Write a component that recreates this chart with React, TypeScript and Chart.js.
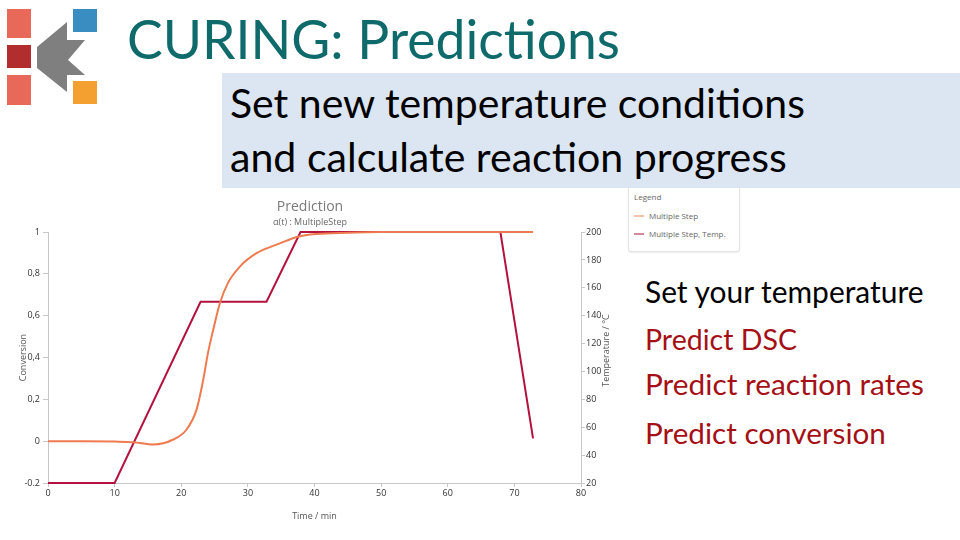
import React, { useEffect, useRef } from "react";
import { Chart, registerables } from "chart.js";

Chart.register(...registerables);

// ---------- data ----------
const timeConversion = [0, 5, 10, 12.8, 15.8, 18.8, 20.8, 22.3, 23.3, 24.0, 24.8, 25.8, 27.0, 28.8, 31.3, 34.8, 37.5, 40.3, 45, 50, 60, 72.8];
const conversionValues = [0, 0, -0.002, -0.005, -0.016, 0.008, 0.056, 0.151, 0.294, 0.42, 0.533, 0.66, 0.756, 0.835, 0.899, 0.946, 0.978, 0.991, 0.997, 1.0, 1.0, 1.0];
const timeTemperature = [0, 10, 22.9, 32.8, 37.9, 67.9, 72.8];
const temperatureValues = [20, 20, 150, 150, 200, 200, 52];
const conversionTickLabels = ["-0.2", "0", "0,2", "0,4", "0,6", "0,8", "1"];
const seriesNames = ["Multiple Step", "Multiple Step, Temp."];
const seriesColors = ["#EE7A50", "#B3123F"];
const legendColors = ["#F3C2A8", "#D48A9C"];
const temperatureAxisTitle = "Temperature / °C";

const SLIDE_FONT = "Lato, 'Open Sans', sans-serif";
const CHART_FONT = "'Open Sans', sans-serif";

function fitSize(text: string, width: number, family: string) {
  const c = document.createElement("canvas");
  const ctx = c.getContext("2d")!;
  ctx.font = `100px ${family}`;
  const w = ctx.measureText(text).width;
  return (100 * width) / w;
}

function SlideText(props: { text: string; x: number; cy: number; width: number; color: string }) {
  const fs = fitSize(props.text, props.width, SLIDE_FONT);
  return (
    <div
      style={{
        position: "absolute",
        left: props.x,
        top: props.cy - 0.528 * fs,
        fontFamily: SLIDE_FONT,
        fontSize: fs,
        lineHeight: 1,
        color: props.color,
        whiteSpace: "nowrap",
        zIndex: 3,
      }}
    >
      {props.text}
    </div>
  );
}

const rightTitlePlugin = {
  id: "rightTitle",
  afterDraw(chart: any) {
    const { ctx, chartArea } = chart;
    ctx.save();
    ctx.translate(606, (chartArea.top + chartArea.bottom) / 2 - 7);
    ctx.rotate(-Math.PI / 2);
    ctx.textAlign = "center";
    ctx.textBaseline = "middle";
    ctx.font = `9px ${CHART_FONT}`;
    ctx.fillStyle = "#555";
    ctx.fillText(temperatureAxisTitle, 0, 0);
    ctx.restore();
  },
};

function PredictionChart() {
  const ref = useRef<HTMLCanvasElement | null>(null);
  useEffect(() => {
    if (!ref.current) return;
    const tickFont = { family: CHART_FONT, size: 9 };
    const titleFont = { family: CHART_FONT, size: 9 };
    const chart = new Chart(ref.current, {
      type: "line",
      data: {
        datasets: [
          {
            label: seriesNames[0],
            data: timeConversion.map((t, i) => ({ x: t, y: conversionValues[i] })),
            borderColor: seriesColors[0],
            borderWidth: 2,
            pointRadius: 0,
            cubicInterpolationMode: "monotone",
            yAxisID: "y",
            clip: 4,
          },
          {
            label: seriesNames[1],
            data: timeTemperature.map((t, i) => ({ x: t, y: temperatureValues[i] })),
            borderColor: seriesColors[1],
            borderWidth: 2,
            pointRadius: 0,
            tension: 0,
            yAxisID: "y1",
            clip: 4,
          },
        ],
      },
      options: {
        responsive: false,
        animation: false,
        layout: { padding: 0 },
        plugins: {
          legend: { display: false },
          tooltip: { enabled: false },
          title: {
            display: true,
            text: "Prediction",
            color: "#7a7a7a",
            font: { family: CHART_FONT, size: 14, weight: "normal" },
            padding: { top: 9, bottom: 1 },
          },
          subtitle: {
            display: true,
            text: "α(t) : MultipleStep",
            color: "#666",
            font: { family: CHART_FONT, size: 9 },
            padding: { top: 0, bottom: 4.5 },
          },
        },
        scales: {
          x: {
            type: "linear",
            min: 0,
            max: 80,
            ticks: { stepSize: 10, color: "#333", font: tickFont, padding: 1, maxRotation: 0 },
            grid: { drawOnChartArea: false, tickLength: 4, color: "#c8c8c8" },
            border: { color: "#c8c8c8" },
            title: { display: true, text: "Time / min", color: "#555", font: titleFont, padding: { top: 0, bottom: 8 } },
            afterFit: (s: any) => { s.height = 47; },
          },
          y: {
            position: "left",
            min: -0.2,
            max: 1,
            ticks: {
              stepSize: 0.2,
              color: "#333",
              font: tickFont,
              padding: 3,
              callback: (_v: any, i: number) => conversionTickLabels[i],
            },
            grid: { drawOnChartArea: false, tickLength: 5, color: "#c8c8c8" },
            border: { color: "#c8c8c8" },
            title: { display: true, text: "Conversion", color: "#555", font: titleFont, padding: { top: 18, bottom: 0 } },
            afterFit: (s: any) => { s.width = 48; },
          },
          y1: {
            position: "right",
            min: 20,
            max: 200,
            ticks: { stepSize: 20, color: "#333", font: tickFont, padding: 1 },
            grid: { drawOnChartArea: false, tickLength: 4, color: "#c8c8c8" },
            border: { color: "#c8c8c8" },
            title: { display: false },
            afterFit: (s: any) => { s.width = 39; },
          },
        },
      },
      plugins: [rightTitlePlugin],
    } as any);
    return () => chart.destroy();
  }, []);
  return (
    <canvas
      ref={ref}
      width={620}
      height={340}
      style={{ position: "absolute", left: 0, top: 190, width: 620, height: 340, zIndex: 1 }}
    />
  );
}

function Logo() {
  return (
    <svg width={110} height={110} style={{ position: "absolute", left: 0, top: 0, zIndex: 3 }}>
      <rect x={7} y={9} width={24} height={29} fill="#E8695A" />
      <rect x={7} y={45} width={24} height={23} fill="#B22D2D" />
      <rect x={7} y={75} width={24} height={30} fill="#E8695A" />
      <rect x={73} y={9} width={24} height={23} fill="#3A8DC1" />
      <rect x={73} y={81} width={24} height={23} fill="#F4A030" />
      <polygon points="37,47 67,22 67,40 85,40 68,60 85,75 67,75 67,92 37,68" fill="#7F7F7F" />
    </svg>
  );
}

function Legend() {
  return (
    <div
      style={{
        position: "absolute",
        left: 628,
        top: 184,
        width: 110,
        height: 66,
        background: "#fff",
        border: "1px solid #e4e4e4",
        borderRadius: 3,
        boxShadow: "0 1px 2px rgba(0,0,0,0.08)",
        fontFamily: CHART_FONT,
        fontSize: 8,
        color: "#666",
        zIndex: 1,
      }}
    >
      <div style={{ position: "absolute", left: 5, top: 6 }}>Legend</div>
      {seriesNames.map((n, i) => (
        <div key={n} style={{ position: "absolute", left: 5, top: 25 + i * 18, display: "flex", alignItems: "center", whiteSpace: "nowrap" }}>
          <span style={{ display: "inline-block", width: 10, height: 2, background: legendColors[i], marginRight: 5 }} />
          <span>{n}</span>
        </div>
      ))}
    </div>
  );
}

export default function App() {
  return (
    <div style={{ position: "fixed", left: 0, top: 0, width: 960, height: 540, background: "#fff", overflow: "hidden" }}>
      <Logo />
      <SlideText text="CURING: Predictions" x={127} cy={40} width={493} color="#0F6B6B" />
      <div style={{ position: "absolute", left: 222, top: 73, width: 738, height: 115, background: "#DCE6F2", zIndex: 2 }} />
      <SlideText text="Set new temperature conditions" x={230} cy={104} width={576} color="#000" />
      <SlideText text="and calculate reaction progress" x={230} cy={158} width={557} color="#000" />
      <Legend />
      <PredictionChart />
      <SlideText text="Set your temperature" x={645} cy={293} width={280} color="#000" />
      <SlideText text="Predict DSC" x={645} cy={340} width={152} color="#A50F16" />
      <SlideText text="Predict reaction rates" x={645} cy={385} width={279} color="#A50F16" />
      <SlideText text="Predict conversion" x={645} cy={434} width={241} color="#A50F16" />
    </div>
  );
}
